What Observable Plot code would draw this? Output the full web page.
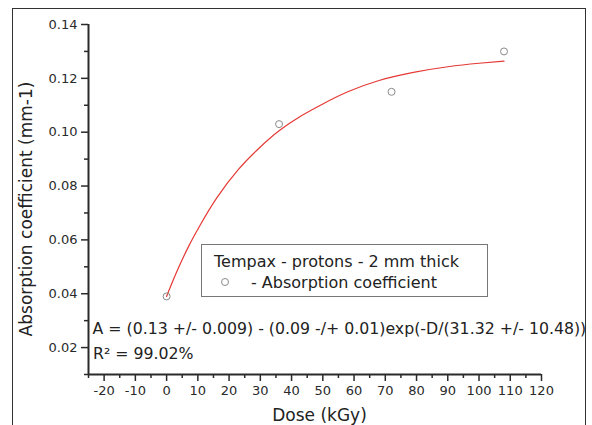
<!DOCTYPE html>
<html>
<head>
<meta charset="utf-8">
<script src="https://cdn.jsdelivr.net/npm/d3@7"></script>
<script src="https://cdn.jsdelivr.net/npm/@observablehq/plot@0.6"></script>
<style>
  html, body { margin: 0; padding: 0; background: #fff; }
  #wrap { position: relative; width: 592px; height: 425px; overflow: hidden; font-family: "DejaVu Sans", sans-serif; }
  #outer { position: absolute; left: 12px; top: 8px; width: 574px; height: 440px; border: 1.5px solid #333; box-sizing: border-box; pointer-events: none; }
  #legend { position: absolute; left: 0; top: 0; pointer-events: none; }
  #chart svg { overflow: visible; }
</style>
</head>
<body>
<div id="wrap">
  <div id="chart"></div>
  <div id="outer"></div>
</div>
<script>
// Measured points (Dose kGy, absorption coefficient mm-1)
const dose = [0, 36, 72, 108];
const absorption = [0.039, 0.103, 0.115, 0.130];

// Fitted curve
const fitDose = [0, 3, 7, 11, 16, 23, 30, 36, 43, 50, 58, 68, 79, 90, 100, 108];
const fitAbs  = [0.039, 0.0475, 0.0575, 0.066, 0.0755, 0.0862, 0.0945, 0.1005, 0.106, 0.1105, 0.115, 0.1192, 0.1222, 0.1243, 0.1256, 0.1264];

// Axis domains and tick values
const xDomain = [-25, 120];
const yDomain = [0.01, 0.14];
const xMajor = [-20, -10, 0, 10, 20, 30, 40, 50, 60, 70, 80, 90, 100, 110, 120];
const xMinor = [-25, -15, -5, 5, 15, 25, 35, 45, 55, 65, 75, 85, 95, 105, 115];
const yMajor = [0.02, 0.04, 0.06, 0.08, 0.10, 0.12, 0.14];
const yMinor = [0.01, 0.03, 0.05, 0.07, 0.09, 0.11, 0.13];

// Texts
const xLabel = ["Dose (kGy)"];
const yLabel = ["Absorption coefficient (mm-1)"];
const equation = ["A = (0.13 +/- 0.009) - (0.09 -/+ 0.01)exp(-D/(31.32 +/- 10.48))"];
const rSquared = ["R\u00B2 = 99.02%"];
const legendTitle = "Tempax - protons - 2 mm thick";
const legendItem = "- Absorption coefficient";

const points = dose.map((d, i) => ({x: d, y: absorption[i]}));
const fit = fitDose.map((d, i) => ({x: d, y: fitAbs[i]}));

const axisColor = "#2a2a2a";

const chart = Plot.plot({
  width: 592,
  height: 425,
  marginLeft: 88,
  marginRight: 51,
  marginTop: 24,
  marginBottom: 51,
  style: {fontFamily: "DejaVu Sans, sans-serif", fontSize: "13px", color: axisColor, background: "transparent"},
  x: {domain: xDomain},
  y: {domain: yDomain},
  marks: [
    Plot.axisX(xMajor, {tickSize: 7, tickPadding: 4, strokeWidth: 1.5, label: null, tickFormat: d => String(d)}),
    Plot.axisX(xMinor, {tickSize: 4, strokeWidth: 1.5, label: null, tickFormat: () => ""}),
    Plot.axisY(yMajor, {tickSize: 7, tickPadding: 4, strokeWidth: 1.5, label: null, tickFormat: d3.format(".2f")}),
    Plot.axisY(yMinor, {tickSize: 4, strokeWidth: 1.5, label: null, tickFormat: () => ""}),
    Plot.ruleX([xDomain[0]], {stroke: axisColor, strokeWidth: 2}),
    Plot.ruleY([yDomain[0]], {stroke: axisColor, strokeWidth: 2}),
    Plot.line(fit, {x: "x", y: "y", stroke: "#e53935", strokeWidth: 1.2, curve: "natural"}),
    Plot.dot(points, {x: "x", y: "y", r: 3.5, stroke: "#8a8a8a", strokeWidth: 1, fill: "none"}),
    Plot.text(xLabel, {frameAnchor: "bottom", text: d => d, dx: 4.5, dy: 41.5, fontSize: 17, fill: "#222", textAnchor: "middle", lineAnchor: "middle"}),
    Plot.text(yLabel, {frameAnchor: "left", text: d => d, rotate: -90, dx: -62.4, dy: 9.5, fontSize: 17, fill: "#222", textAnchor: "middle", lineAnchor: "middle"}),
    Plot.text(equation, {frameAnchor: "bottom-left", text: d => d, dx: 4, dy: -45.7, fontSize: 15.75, fill: "#222", textAnchor: "start", lineAnchor: "middle"}),
    Plot.text(rSquared, {frameAnchor: "bottom-left", text: d => d, dx: 4.5, dy: -20.7, fontSize: 15.75, fill: "#222", textAnchor: "start", lineAnchor: "middle"})
  ]
});
document.getElementById("chart").appendChild(chart);

// Legend box (overlay)
const ns = "http://www.w3.org/2000/svg";
const lg = document.createElementNS(ns, "svg");
lg.setAttribute("id", "legend");
lg.setAttribute("width", 592);
lg.setAttribute("height", 425);
const box = document.createElementNS(ns, "rect");
Object.entries({x: 201.5, y: 244.5, width: 286, height: 52, fill: "#fff", stroke: "#777", "stroke-width": 1}).forEach(([k, v]) => box.setAttribute(k, v));
lg.appendChild(box);
const t1 = document.createElementNS(ns, "text");
Object.entries({x: 214, y: 267, "font-size": 16, "font-family": "DejaVu Sans, sans-serif", fill: "#222"}).forEach(([k, v]) => t1.setAttribute(k, v));
t1.textContent = legendTitle;
lg.appendChild(t1);
const c = document.createElementNS(ns, "circle");
Object.entries({cx: 225, cy: 282, r: 3.5, fill: "none", stroke: "#8a8a8a", "stroke-width": 1}).forEach(([k, v]) => c.setAttribute(k, v));
lg.appendChild(c);
const t2 = document.createElementNS(ns, "text");
Object.entries({x: 251, y: 288, "font-size": 16, "font-family": "DejaVu Sans, sans-serif", fill: "#222"}).forEach(([k, v]) => t2.setAttribute(k, v));
t2.textContent = legendItem;
lg.appendChild(t2);
document.getElementById("wrap").appendChild(lg);
</script>
</body>
</html>
